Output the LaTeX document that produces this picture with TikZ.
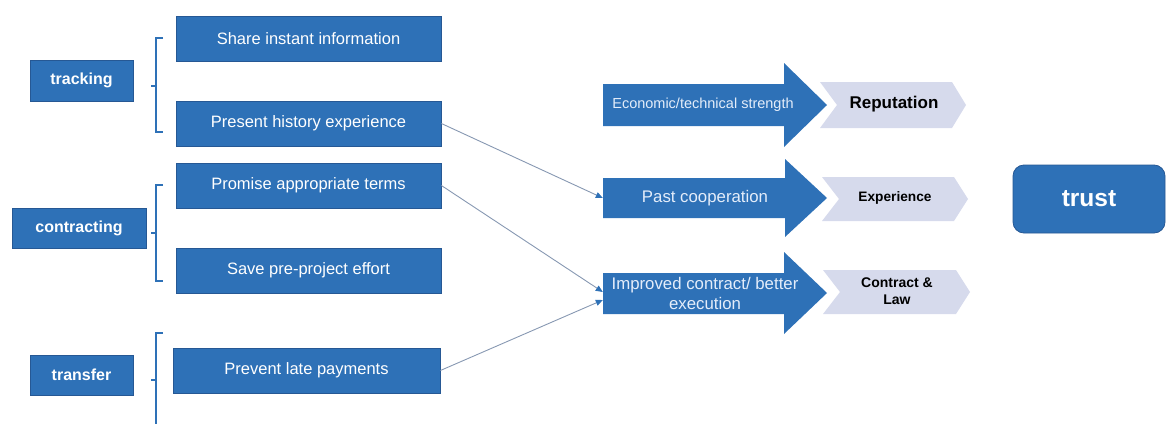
\documentclass[tikz,border=0pt]{standalone}
\usepackage{fontspec}
\setmainfont{Liberation Sans}
\usetikzlibrary{arrows.meta,calc}
\definecolor{mblue}{RGB}{46,113,183}
\definecolor{mborder}{RGB}{38,88,148}
\definecolor{chev}{RGB}{214,218,236}
\definecolor{conn}{RGB}{135,152,178}
\definecolor{atxt}{RGB}{228,237,250}
\begin{document}
\begin{tikzpicture}[x=1pt,y=-1pt,
  box/.style={draw=mborder, line width=0.8pt, fill=mblue, text=white, inner sep=0pt,
    font=\fontsize{16.5}{19}\selectfont},
  lab/.style={box, font=\fontsize{16}{19}\selectfont\bfseries},
  brace/.style={draw=mblue, line width=2pt},
  bigarrow/.style={fill=mblue, draw=none},
  atext/.style={text=atxt, inner sep=0pt, align=center, font=\fontsize{16.8}{20}\selectfont},
  chevron/.style={fill=chev, draw=none},
  ctext/.style={text=black, inner sep=0pt, align=center, font=\bfseries},
  body/.style={draw=none, inner sep=0pt, minimum width=181, minimum height=42},
  conn/.style={draw=conn, line width=0.9pt, -{Triangle[length=7pt,width=6pt,fill=mblue,color=mblue]}}
]
\useasboundingbox (0,0) rectangle (1167,423);

% left labels
\node[lab, minimum width=103, minimum height=41] (tracking) at (81.5,80.5) {tracking};
\node[lab, minimum width=134, minimum height=40] (contracting) at (79,228) {contracting};
\node[lab, minimum width=103, minimum height=40] (transfer) at (81.5,375) {transfer};

% item boxes
\node[box, minimum width=265, minimum height=45] (s1) at (308.5,38.5) {Share instant information};
\node[box, minimum width=265, minimum height=45] (s2) at (308.5,123.5) {Present history experience};
\node[box, minimum width=265, minimum height=45] (s3) at (308.5,185.5) {Promise appropriate terms};
\node[box, minimum width=265, minimum height=45] (s4) at (308.5,270.5) {Save pre-project effort};
\node[box, minimum width=267, minimum height=45] (s5) at (306.5,370.5) {Prevent late payments};

% brackets
\draw[brace] (163,38) -- (156,38) -- (156,132) -- (163,132);
\draw[brace] (156,86) -- (151,86);
\draw[brace] (163,185) -- (156,185) -- (156,281) -- (163,281);
\draw[brace] (156,233) -- (151,233);
\draw[brace] (163,333) -- (156,333) -- (156,424);
\draw[brace] (156,380) -- (151,380);

% big arrows
\draw[bigarrow] (603,84) -- (784,84) -- (784,63) -- (827,105) -- (784,147) -- (784,126) -- (603,126) -- cycle;
\draw[bigarrow] (603,178) -- (785,178) -- (785,159) -- (827,198) -- (785,237) -- (785,218) -- (603,218) -- cycle;
\draw[bigarrow] (603,273) -- (784,273) -- (784,252) -- (827,293) -- (784,334) -- (784,314) -- (603,314) -- cycle;
\node[body] (a1) at (693.5,105) {};
\node[body] (a2) at (693.5,198) {};
\node[body] (a3) at (693.5,293.5) {};
\node[atext, font=\fontsize{14.5}{17}\selectfont] (t1) at (703,105) {Economic/technical strength};
\node[atext] (t2) at (705,198) {Past cooperation};
\node[atext] (t3) at (705,293) {Improved contract/ better\\execution};

% chevrons
\draw[chevron] (820,82) -- (952,82) -- (966,105) -- (952,128) -- (820,128) -- (837,105) -- cycle;
\draw[chevron] (822,177) -- (954,177) -- (968,199) -- (954,221) -- (822,221) -- (839,199) -- cycle;
\draw[chevron] (823,270) -- (956,270) -- (970,292) -- (956,314) -- (823,314) -- (840,292) -- cycle;
\node[ctext, font=\fontsize{17}{20}\selectfont\bfseries] (rep) at (894,104) {Reputation};
\node[ctext, font=\fontsize{13.7}{16}\selectfont\bfseries] (exp) at (895,198) {Experience};
\node[ctext, font=\fontsize{14}{17}\selectfont\bfseries] (law) at (897,291) {Contract \&\\Law};

% trust
\node[box, rounded corners=11pt, minimum width=152, minimum height=68,
  font=\fontsize{24.5}{28}\selectfont\bfseries] (trust) at (1089,199) {trust};

% connectors
\draw[conn] (s2.east) -- (a2.west);
\draw[conn] (s3.east) -- ($(a3.west)+(0,-1.5)$);
\draw[conn] (s5.east) -- ($(a3.west)+(0,6.5)$);
\end{tikzpicture}
\end{document}
